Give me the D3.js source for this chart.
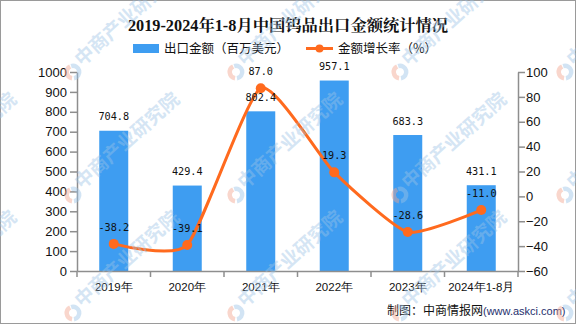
<!DOCTYPE html>
<html><head><meta charset="utf-8">
<script src="https://cdn.jsdelivr.net/npm/d3@7"></script>
<style>body{margin:0;background:#fff}svg{display:block}</style>
</head><body><svg id="c" width="576" height="324"></svg>
<script>
const categories = ["2019年","2020年","2021年","2022年","2023年","2024年1-8月"];
const exportValues = [704.8, 429.4, 802.4, 957.1, 683.3, 431.1];
const growthRates = [-38.2, -39.1, 87.0, 19.3, -28.6, -11.0];
const leftTicks = [0,100,200,300,400,500,600,700,800,900,1000];
const rightTicks = [-60,-40,-20,0,20,40,60,80,100];

const svg = d3.select("#c");
const W=576,H=324;
const m={l:77,r:518,t:72,b:271};
const blue="#3E9DF1", orange="#FF6A1E", axisC="#8e8e8e";
const font="'Liberation Sans', Arial, sans-serif";
const cjk="'Noto Sans CJK SC', sans-serif";

svg.append("rect").attr("x",0.5).attr("y",0.5).attr("width",W-1).attr("height",H-1).attr("fill","#fff").attr("stroke","#9a9a9a");

const x=d3.scaleBand().domain(categories).range([m.l,m.r]).paddingInner(0).paddingOuter(0);
const yL=d3.scaleLinear().domain([0,1000]).range([m.b,m.t]);
const yR=d3.scaleLinear().domain([-60,100]).range([m.b,m.t]);

// title
svg.append("text").attr("x",288).attr("y",31).attr("text-anchor","middle")
  .attr("font-family","'Liberation Serif','Noto Serif CJK SC',serif").attr("font-weight","bold").attr("font-size",16.3).attr("fill","#111")
  .text("2019-2024年1-8月中国钨品出口金额统计情况");

// legend
svg.append("rect").attr("x",133).attr("y",44).attr("width",26).attr("height",9).attr("fill",blue);
svg.append("text").attr("x",164).attr("y",53).attr("font-family",cjk).attr("font-size",12.5).attr("fill","#111").text("出口金额（百万美元）");
svg.append("line").attr("x1",306).attr("x2",333).attr("y1",48.5).attr("y2",48.5).attr("stroke",orange).attr("stroke-width",3);
svg.append("circle").attr("cx",319.5).attr("cy",48.5).attr("r",4).attr("fill",orange);
svg.append("text").attr("x",338).attr("y",53).attr("font-family",cjk).attr("font-size",12.5).attr("fill","#111").text("金额增长率（%）");

// bars
const bw=29;
svg.append("g").selectAll("rect").data(exportValues).join("rect")
  .attr("x",(d,i)=>x(categories[i])+x.bandwidth()/2-bw/2)
  .attr("y",d=>yL(d)).attr("width",bw).attr("height",d=>yL(0)-yL(d)).attr("fill",blue);

// axes
const gL=svg.append("g").attr("transform",`translate(${m.l},0)`).call(d3.axisLeft(yL).tickValues(leftTicks).tickFormat(d3.format("d")).tickSize(7).tickSizeOuter(0));
const gR=svg.append("g").attr("transform",`translate(${m.r},0)`).call(d3.axisRight(yR).tickValues(rightTicks).tickFormat(d3.format("d")).tickSize(7).tickSizeOuter(0));
const gB=svg.append("g").attr("transform",`translate(0,${m.b})`).call(d3.axisBottom(x).tickSize(0).tickSizeOuter(0));
[gL,gR,gB].forEach(g=>{
  g.selectAll("path").attr("stroke",axisC).attr("stroke-width",1.5);
  g.selectAll("line").attr("stroke",axisC).attr("stroke-width",1.5);
  g.selectAll("text").attr("font-family",font).attr("font-size",13).attr("fill","#111");
});
gL.selectAll("text").attr("x",-10);
gR.selectAll("text").attr("x",8);
gR.selectAll("text").text(d=>d<0?"\u2212"+Math.abs(d):d);
gB.selectAll("text").attr("dy",0).attr("y",20).attr("font-size",11.5);
// category boundary ticks
const bounds=categories.map(c=>x(c)).concat([m.r]);
svg.append("g").selectAll("line").data(bounds).join("line")
  .attr("x1",d=>d).attr("x2",d=>d).attr("y1",m.b).attr("y2",m.b+6).attr("stroke",axisC).attr("stroke-width",1.5);

// line
const pts=growthRates.map((v,i)=>[x(categories[i])+x.bandwidth()/2,yR(v)]);
svg.append("path").attr("d",d3.line().curve(d3.curveCardinal.tension(0.45))(pts))
  .attr("fill","none").attr("stroke",orange).attr("stroke-width",3);
svg.append("g").selectAll("circle").data(pts).join("circle")
  .attr("cx",d=>d[0]).attr("cy",d=>d[1]).attr("r",5).attr("fill",orange);

// labels
const lf="'DejaVu Sans Mono', monospace";
svg.append("g").selectAll("text").data(exportValues).join("text")
  .attr("x",(d,i)=>x(categories[i])+x.bandwidth()/2).attr("y",d=>yL(d)-10.5)
  .attr("text-anchor","middle").attr("font-family",lf).attr("font-size",10.2).attr("fill","#111")
  .text(d=>d.toFixed(1));
svg.append("g").selectAll("text").data(growthRates).join("text")
  .attr("x",(d,i)=>x(categories[i])+x.bandwidth()/2).attr("y",d=>yR(d)-13)
  .attr("text-anchor","middle").attr("font-family",lf).attr("font-size",10.2).attr("fill","#111")
  .text(d=>d.toFixed(1));

// footer
const ft=svg.append("text").attr("x",387).attr("y",315).attr("font-family",cjk).attr("font-size",12).attr("fill","#111");
ft.append("tspan").text("制图：中商情报网");
ft.append("tspan").attr("fill","#1f2f6e").attr("font-family",font).attr("font-size",11).text("(www.askci.com)");

// watermark
const wmCols=[-90,73,236,400,565], wmRows=[72,195,313];
const wm=svg.append("g").attr("pointer-events","none");
const arcB=d3.arc().innerRadius(4).outerRadius(8.5);
wmRows.forEach(cy=>wmCols.forEach(cx=>{
  const g=wm.append("g").attr("transform",`translate(${cx},${cy})`);
  g.append("path").attr("d",arcB({startAngle:-0.3,endAngle:Math.PI*0.95})).attr("fill","#9cc3e6").attr("opacity",0.45);
  g.append("path").attr("d",arcB({startAngle:Math.PI*1.05,endAngle:Math.PI*1.85})).attr("fill","#f2a58f").attr("opacity",0.45);
  g.append("text").attr("transform","translate(9,-5) rotate(-42)")
    .attr("font-family",cjk).attr("font-weight","bold").attr("font-size",19)
    .attr("fill","#9cc3e6").attr("opacity",0.42).text("中商产业研究院");
}));
</script></body></html>
